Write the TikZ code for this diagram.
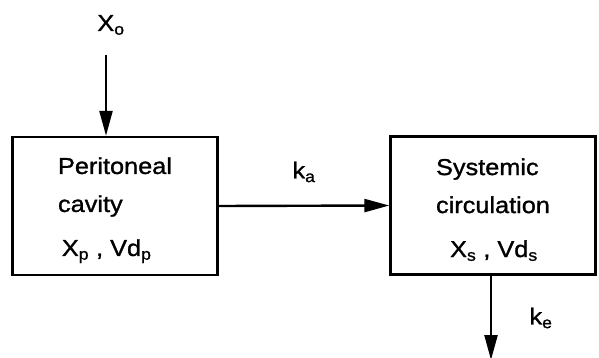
\documentclass[tikz,border=0pt]{standalone}
\usepackage{fontspec}
\setmainfont[FakeStretch=1.1, FakeBold=1.2]{Liberation Sans}
\usetikzlibrary{positioning, arrows.meta}

\begin{document}
\begin{tikzpicture}[
      x=1pt, y=-1pt,
      compartment/.style={rectangle, draw, line width=2.4pt, minimum width=205pt,
        minimum height=138pt, align=left, font=\fontsize{23}{38}\selectfont},
      rate/.style={font=\fontsize{23}{26}\selectfont},
      flow/.style={-{Triangle[length=25pt, width=13pt]}, line width=2.4pt}
    ]
    \useasboundingbox (0,0) rectangle (599,358);
    \node[compartment] (cavity) at (115,206)
      {\rule{0pt}{25pt}Peritoneal\\cavity\\[6pt]\,X\textsubscript{p} , Vd\textsubscript{p}};
    \node[compartment] (blood) at (493,205.5)
      {\rule{0pt}{25pt}Systemic\\circulation\\[6pt]\ \ X\textsubscript{s} , Vd\textsubscript{s}};
    \node[rate] (dose) at (111,25) {X\textsubscript{o}};
    \coordinate (dosetail) at (106,55);
    \coordinate (sink) at (491,360);
    \draw[flow] (dosetail) -- (dosetail |- cavity.north);
    \draw[flow] (cavity.east) -- (blood.west)
      node[rate, midway, above=19pt] (ka) {k\textsubscript{a}};
    \draw[flow] (sink |- blood.south) -- (sink);
    \node[rate] (ke) at (541,318) {k\textsubscript{e}};
  \end{tikzpicture}
\end{document}
